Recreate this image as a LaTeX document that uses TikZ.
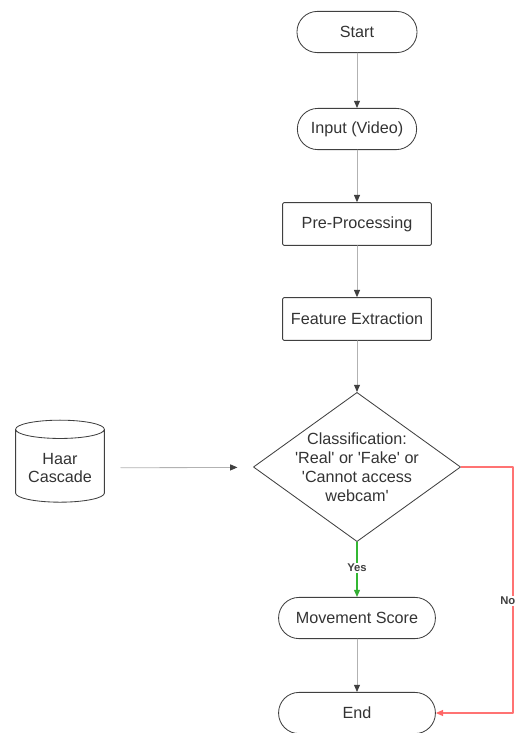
\documentclass[tikz,border=0pt]{standalone}
\usepackage{fontspec}
\setmainfont{Liberation Sans}
\usepackage{tikz}
\usetikzlibrary{arrows.meta, shapes.geometric}

\begin{document}
\begin{tikzpicture}[
  x=0.025cm,
  y=-0.025cm,
  line cap=round,
  line join=round,
  label/.style={font=\fontsize{11.5}{13.5}\selectfont,text=black!80},
  terminal/.style={label,draw=black!75,line width=0.6pt,rounded corners=0.51cm,
    minimum height=1.03cm,align=center},
  process/.style={label,draw=black!75,line width=0.6pt,rounded corners=1pt,
    minimum width=3.72cm,minimum height=1.07cm,align=center},
  decision/.style={label,draw=black!75,line width=0.6pt,diamond,aspect=1.39,
    inner sep=-4.5pt,minimum width=5.18cm,minimum height=3.73cm,align=center},
  store/.style={label,draw=black!75,line width=0.6pt,cylinder,shape border rotate=90,
    aspect=0.25,minimum width=2.22cm,minimum height=2.05cm,align=center},
  flow/.style={draw=black!30,line width=0.6pt,
    -{Triangle[length=1.8mm,width=1.5mm,color=black!75]}},
  yesflow/.style={draw=green!65!black!80,line width=0.8pt,
    -{Triangle[length=1.8mm,width=1.5mm,color=green!60!black!80]}},
  noflow/.style={draw=red!55,line width=0.8pt,
    -{Triangle[length=1.8mm,width=1.5mm,color=red!60]}},
  branch/.style={font=\fontsize{8}{9}\selectfont\bfseries,text=black!75}
]
  \useasboundingbox (0,0) rectangle (517,733);

  % Main column of the flow chart
  \node[terminal,minimum width=3cm] (start) at (357,32) {Start};
  \node[terminal,minimum width=2.98cm] (input) at (357,129) {Input (Video)};
  \node[process] (prep) at (357,224) {Pre-Processing};
  \node[process] (feat) at (357,319) {Feature Extraction};
  \node[decision] (classify) at (357,467)
    {Classification:\\\textquotesingle Real\textquotesingle\ or
     \textquotesingle Fake\textquotesingle\ or\\\textquotesingle Cannot
     access\\webcam\textquotesingle};
  \node[terminal,minimum width=3.92cm] (score) at (357,618) {Movement Score};
  \node[terminal,minimum width=3.92cm] (finish) at (357,713) {End};

  % Trained face detector
  \node[store] (haar) at (60,468) {Haar\\Cascade};

  % Straight connectors
  \draw[flow] (start) -- (input);
  \draw[flow] (input) -- (prep);
  \draw[flow] (prep) -- (feat);
  \draw[flow] (feat) -- (classify);
  \draw[flow,shorten <=0.4cm,shorten >=0.4cm] (haar) -- (classify);
  \draw[flow] (score) -- (finish);

  % Decision branches
  \draw[yesflow] (classify.south) -- (score.north)
    node[branch,pos=0.47,fill=white,inner sep=1pt] (yes) {Yes};
  \coordinate (bend) at (513,467);
  \draw[noflow] (classify.east) -- (bend) |- (finish.east);
  \node[branch,fill=white,inner sep=1pt,anchor=east] (no) at (517,601) {No};

\end{tikzpicture}
\end{document}
